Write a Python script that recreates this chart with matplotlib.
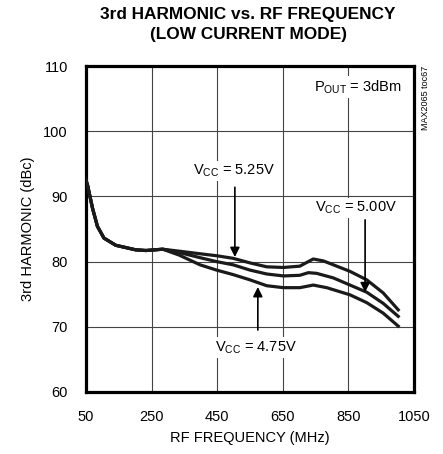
import matplotlib.pyplot as plt

plt.rcParams['font.family'] = ['Liberation Sans Narrow', 'Liberation Sans', 'DejaVu Sans']
plt.rcParams['mathtext.fontset'] = 'custom'
plt.rcParams['mathtext.rm'] = 'Liberation Sans'
plt.rcParams['mathtext.it'] = 'Liberation Sans'

# datos
freq_common = [50, 55, 70, 85, 105, 141, 202, 233, 284]
h3_common = [92.5, 91.7, 88.2, 85.4, 83.6, 82.5, 81.8, 81.7, 81.9]

freq_525 = [334, 398, 448, 499, 550, 601, 652, 702, 728, 743, 774, 855, 906, 956, 1002]
h3_525 = [81.6, 81.2, 80.9, 80.5, 79.8, 79.2, 79.1, 79.3, 80.0, 80.4, 80.1, 78.5, 77.2, 75.2, 72.6]

freq_500 = [334, 398, 448, 499, 550, 601, 652, 702, 728, 753, 804, 855, 906, 956, 1002]
h3_500 = [81.4, 80.6, 80.0, 79.5, 78.7, 78.1, 77.8, 77.9, 78.3, 78.2, 77.5, 76.4, 75.3, 73.6, 71.6]

freq_475 = [334, 398, 448, 499, 550, 601, 652, 702, 743, 784, 855, 906, 956, 1002]
h3_475 = [81.0, 79.5, 78.7, 78.0, 77.2, 76.3, 76.0, 76.0, 76.4, 76.0, 74.9, 73.7, 72.1, 70.1]

x_ticks = [50, 250, 450, 650, 850, 1050]
y_ticks = [60, 70, 80, 90, 100, 110]


def main():
    fig = plt.figure(figsize=(4.43, 4.54), dpi=100)
    ax = fig.add_axes([0.194, 0.1366, 0.7405, 0.718])

    for fx, hy in [(freq_525, h3_525), (freq_500, h3_500), (freq_475, h3_475)]:
        ax.plot(freq_common + fx, h3_common + hy, color='#1a1a1a', lw=2.3,
                solid_joinstyle='round', zorder=3)

    ax.set_xlim(50, 1050)
    ax.set_ylim(60, 110)
    ax.set_xticks(x_ticks)
    ax.set_yticks(y_ticks)
    ax.tick_params(length=0, labelsize=10.5)
    ax.tick_params(axis='y', pad=13)
    ax.tick_params(axis='x', pad=13)
    ax.grid(color='#444444', lw=0.8)
    for s in ax.spines.values():
        s.set_linewidth(2.3)

    ax.set_xlabel('RF FREQUENCY (MHz)', fontsize=10.5, labelpad=5)
    ax.set_ylabel('3rd HARMONIC (dBc)', fontsize=10.5, labelpad=6)
    fig.text(0.56, 0.967, '3rd HARMONIC vs. RF FREQUENCY', ha='center', va='center',
             fontsize=12.4, fontweight='bold')
    fig.text(0.56, 0.923, '(LOW CURRENT MODE)', ha='center', va='center',
             fontsize=12.4, fontweight='bold')

    box = dict(fc='white', ec='none', pad=1.5)
    ax.text(1013, 106.8, r'P$_{\mathrm{OUT}}$ = 3dBm', ha='right', va='center',
            fontsize=10.5, bbox=box, zorder=4)
    ax.text(501, 93.9, r'V$_{\mathrm{CC}}$ = 5.25V', ha='center', va='center',
            fontsize=10.5, bbox=box, zorder=4)
    ax.text(873, 88.2, r'V$_{\mathrm{CC}}$ = 5.00V', ha='center', va='center',
            fontsize=10.5, bbox=box, zorder=4)
    ax.text(568, 66.8, r'V$_{\mathrm{CC}}$ = 4.75V', ha='center', va='center',
            fontsize=10.5, bbox=box, zorder=4)

    arrow = dict(arrowstyle='-|>', color='black', lw=1.2, mutation_scale=14,
                 shrinkA=0, shrinkB=0)
    ax.annotate('', xy=(504, 80.7), xytext=(504, 91.4), arrowprops=arrow, zorder=5)
    ax.annotate('', xy=(901, 75.3), xytext=(901, 86.4), arrowprops=arrow, zorder=5)
    ax.annotate('', xy=(574, 76.1), xytext=(574, 69.5), arrowprops=arrow, zorder=5)

    fig.text(0.96, 0.785, 'MAX2065 toc67', rotation=90, ha='center', va='center',
             fontsize=6.5)

    plt.savefig('out.png', dpi=100)


if __name__ == '__main__':
    main()
